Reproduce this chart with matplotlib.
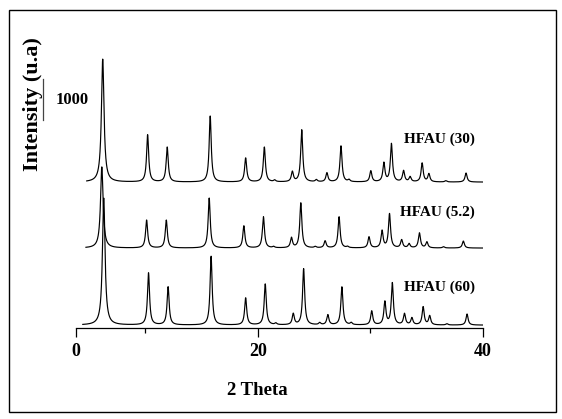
import numpy as np
import matplotlib
matplotlib.use("Agg")
import matplotlib.pyplot as plt
from matplotlib.patches import Rectangle

# ---------------- data ----------------
labels = ["HFAU (30)", "HFAU (5.2)", "HFAU (60)"]
baselines = [3560, 1950, 70]          # vertical offsets (counts)
starts = [4.8, 4.73, 4.45]            # first 2-theta of each scan

top_pos = [6.22, 10.21, 11.95, 15.77, 18.92, 20.58, 21.5, 23.07, 23.90, 25.2, 26.14,
           27.39, 28.1, 30.04, 31.2, 31.87, 32.95, 33.53, 34.6, 35.2, 36.7, 38.5]
top_int = [3000, 1150, 850, 1610, 585, 850, 40, 245, 1270, 50, 220,
           880, 50, 270, 460, 930, 270, 120, 460, 195, 30, 220]

mid_pos = [6.14, 10.12, 11.87, 15.68, 18.76, 20.5, 21.4, 22.99, 23.82, 25.1, 25.98,
           27.22, 27.97, 29.88, 31.04, 31.7, 32.78, 33.44, 34.36, 35.02, 36.5, 38.26]
mid_int = [1980, 680, 680, 1220, 540, 760, 30, 245, 1100, 30, 170,
           760, 30, 270, 415, 830, 195, 100, 365, 145, 30, 170]

bot_pos = [6.31, 10.29, 12.03, 15.85, 18.92, 20.66, 21.6, 23.15, 24.07, 25.5, 26.22,
           27.47, 28.3, 30.12, 31.29, 31.95, 33.03, 33.69, 34.69, 35.27, 36.8, 38.59]
bot_int = [3100, 1270, 930, 1680, 660, 1000, 40, 270, 1370, 50, 245,
           930, 50, 340, 560, 1020, 270, 170, 440, 220, 30, 270]

peaks = [(top_pos, top_int), (mid_pos, mid_int), (bot_pos, bot_int)]

x_ticks = [3.82, 20, 40]
x_ticklabels = ["0", "20", "40"]
x_minor = [10, 30]
scale_bar = 1000

# ---------------- figure ----------------
plt.rcParams['font.family'] = ['Liberation Serif', 'DejaVu Serif']
plt.rcParams['font.weight'] = 'bold'

fig = plt.figure(figsize=(5.62, 4.19), dpi=100)
ax = fig.add_axes([0.1347, 0.2172, 0.7246, 0.6921])

HWHM = 0.11
for (pos, inten), base, x0 in zip(peaks, baselines, starts):
    x = np.linspace(x0, 40, 4000)
    y = np.full_like(x, float(base))
    for p, h in zip(pos, inten):
        w = HWHM * (1.25 if h > 1900 else 1.0)
        y += h * w**2 / ((x - p)**2 + w**2)
    ax.plot(x, y, color='black', lw=0.85)

ax.set_xlim(3.82, 40)
ax.set_ylim(0, 7076)

for s in ['top', 'right', 'left']:
    ax.spines[s].set_visible(False)
ax.spines['bottom'].set_linewidth(0.9)
ax.set_yticks([])
ax.set_xticks(x_ticks)
ax.set_xticklabels(x_ticklabels)
ax.set_xticks(x_minor, minor=True)
ax.tick_params(axis='x', which='major', direction='out', length=6.5, width=0.9,
               labelsize=13, pad=4)
ax.tick_params(axis='x', which='minor', direction='out', length=3.5, width=0.9)

# sample labels
label_y = [4600, 2818, 1000]
for lab, ly in zip(labels, label_y):
    ax.text(39.3, ly, lab, ha='right', va='center', fontsize=11, fontweight='bold')

# intensity scale bar
ax.plot([0.92, 0.92], [5075, 5075 + scale_bar], color='#444444', lw=0.9, clip_on=False)
ax.text(3.49, 5575, str(scale_bar), ha='center', va='center', fontsize=12, fontweight='bold')

# axis titles
fig.text(257.8 / 562, 1 - 390.5 / 419, "2 Theta", ha='center', va='center',
         fontsize=13.5, fontweight='bold')
fig.text(32.7 / 562, 1 - 104.5 / 419, "Intensity (u.a)", rotation=90,
         ha='center', va='center', fontsize=16, fontweight='bold')

# outer frame
fig.add_artist(Rectangle((9 / 562, 7 / 419), 547 / 562, 402 / 419,
                         transform=fig.transFigure, fill=False,
                         edgecolor='black', lw=1.0))

fig.savefig("out.png", dpi=100)
